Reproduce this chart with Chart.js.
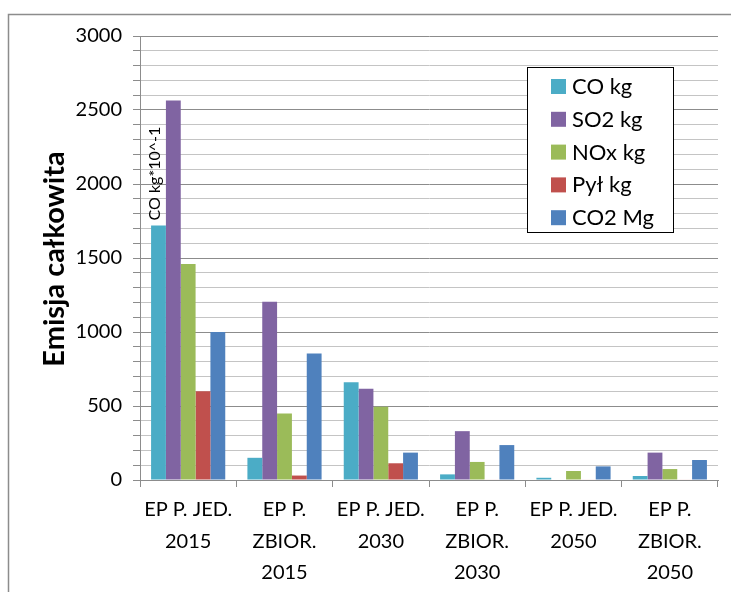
<!DOCTYPE html>
<html>
<head>
<meta charset="utf-8">
<script src="https://cdn.jsdelivr.net/npm/chart.js@4/dist/chart.umd.min.js"></script>
<style>
  html, body { margin: 0; padding: 0; background: #ffffff; }
  canvas { display: block; }
</style>
</head>
<body>
<canvas id="chart" width="731" height="592"></canvas>
<script>
// Scenario categories (multi-line labels)
const categories = [
  ["EP P. JED.", "2015"],
  ["EP P.", "ZBIOR.", "2015"],
  ["EP P. JED.", "2030"],
  ["EP P.", "ZBIOR.", "2030"],
  ["EP P. JED.", "2050"],
  ["EP P.", "ZBIOR.", "2050"]
];

// Emission series
const coKg   = [1720, 150, 660, 38, 15, 27];
const so2Kg  = [2565, 1205, 617, 330, 0, 185];
const noxKg  = [1460, 450, 495, 122, 61, 74];
const pylKg  = [600, 30, 113, 3, 3, 3];
const co2Mg  = [1000, 855, 185, 236, 92, 135];

const seriesLabels = ["CO kg", "SO2 kg", "NOx kg", "Pył kg", "CO2 Mg"];
const seriesColors = ["#4BACC6", "#8064A2", "#9BBB59", "#C0504D", "#4F81BD"];

// Y axis range and labelled ticks
const yMin = 0;
const yMax = 3000;
const yMinorStep = 100;
const yMajorStep = 500;

const yTitle = "Emisja całkowita";
const coNote = "CO kg*10^-1";

const FONT = "Lato, 'Open Sans', 'DejaVu Sans', sans-serif";

const seriesData = [coKg, so2Kg, noxKg, pylKg, co2Mg];

const datasets = seriesData.map((d, i) => ({
  label: seriesLabels[i],
  data: d,
  backgroundColor: seriesColors[i],
  borderColor: seriesColors[i],
  borderWidth: 0,
  categoryPercentage: 0.77,
  barPercentage: 1.0
}));

// Frame, axis title, CO note and the boxed legend
const decorations = {
  id: "decorations",
  beforeDraw(chart) {
    const ctx = chart.ctx;
    ctx.save();
    ctx.fillStyle = "#ffffff";
    ctx.fillRect(0, 0, chart.width, chart.height);
    ctx.strokeStyle = "#8c8c8c";
    ctx.lineWidth = 1.5;
    ctx.strokeRect(8.5, 14.5, chart.width + 20, chart.height + 20);
    ctx.restore();
  },
  afterDraw(chart) {
    const ctx = chart.ctx;
    const area = chart.chartArea;

    // Y axis title
    ctx.save();
    ctx.translate(55, 259);
    ctx.rotate(-Math.PI / 2);
    ctx.fillStyle = "#000000";
    ctx.font = "bold 29px " + FONT;
    ctx.textAlign = "center";
    ctx.textBaseline = "middle";
    ctx.fillText(yTitle, 0, 0);
    ctx.restore();

    // Note above the first CO bar
    const bar = chart.getDatasetMeta(0).data[0];
    ctx.save();
    ctx.translate(bar.x - 4, bar.y - 5);
    ctx.rotate(-Math.PI / 2);
    ctx.fillStyle = "#000000";
    ctx.font = "16px " + FONT;
    ctx.textAlign = "left";
    ctx.textBaseline = "middle";
    ctx.fillText(coNote, 0, 0);
    ctx.restore();

    // Legend box
    const bx = 527, by = 67, bw = 146, bh = 165;
    ctx.save();
    ctx.fillStyle = "#ffffff";
    ctx.fillRect(bx, by, bw, bh);
    ctx.strokeStyle = "#000000";
    ctx.lineWidth = 1;
    ctx.strokeRect(bx + 0.5, by + 0.5, bw, bh);
    ctx.font = "22px " + FONT;
    ctx.textBaseline = "middle";
    ctx.textAlign = "left";
    chart.data.datasets.forEach((ds, i) => {
      const cy = 86 + i * 32.8;
      ctx.fillStyle = ds.backgroundColor;
      ctx.fillRect(551, cy - 7, 15, 15);
      ctx.fillStyle = "#000000";
      ctx.fillText(ds.label, 572, cy + 1);
    });
    ctx.restore();
  }
};

new Chart(document.getElementById("chart"), {
  type: "bar",
  data: { labels: categories, datasets },
  options: {
    responsive: false,
    animation: false,
    devicePixelRatio: 1,
    layout: { padding: { left: 0, top: 36, right: 13, bottom: 0 } },
    plugins: {
      legend: { display: false },
      tooltip: { enabled: false }
    },
    scales: {
      x: {
        afterFit(scale) { scale.height = 112; },
        grid: {
          offset: true,
          drawOnChartArea: false,
          drawTicks: true,
          tickLength: 7,
          tickColor: "#8c8c8c",
          color: "#8c8c8c"
        },
        border: { display: true, color: "#8c8c8c", width: 1 },
        ticks: {
          color: "#000000",
          padding: 7,
          maxRotation: 0,
          autoSkip: false,
          font: { family: FONT, size: 20, lineHeight: 1.57 }
        }
      },
      y: {
        min: yMin,
        max: yMax,
        afterFit(scale) { scale.width = 140; },
        grid: {
          color: (c) => (c.tick && c.tick.value % yMajorStep === 0) ? "#8c8c8c" : "#c4c4c4",
          lineWidth: 1,
          tickLength: 7,
          tickColor: "#8c8c8c"
        },
        border: { display: true, color: "#8c8c8c", width: 1 },
        ticks: {
          stepSize: yMinorStep,
          autoSkip: false,
          color: "#000000",
          padding: 11,
          font: { family: FONT, size: 20 },
          callback: (v) => (v % yMajorStep === 0 ? String(v) : "")
        }
      }
    }
  },
  plugins: [decorations]
});
</script>
</body>
</html>
